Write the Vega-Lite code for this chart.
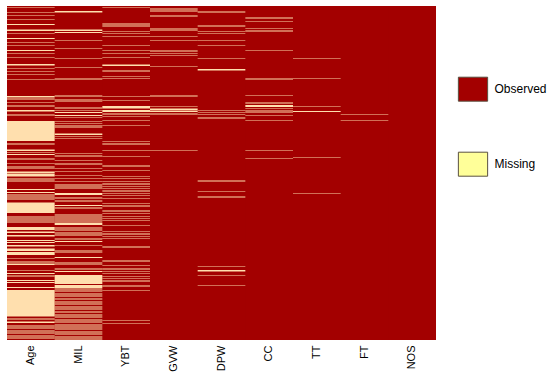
{
 "$schema": "https://vega.github.io/schema/vega-lite/v6.json",
 "width": 429, "height": 334,
 "autosize": {"type": "none"},
 "padding": {"left": 7, "top": 6, "right": 114, "bottom": 32},
 "background": "white",
 "view": {"fill": "#A30000", "stroke": null},
 "datasets": {
  "bg": [
   {"v":"Age","s":0,"e":668,"st":"Observed"},{"v":"MIL","s":0,"e":668,"st":"Observed"},{"v":"YBT","s":0,"e":668,"st":"Observed"},
   {"v":"GVW","s":0,"e":668,"st":"Observed"},{"v":"DPW","s":0,"e":668,"st":"Observed"},{"v":"CC","s":0,"e":668,"st":"Observed"},
   {"v":"TT","s":0,"e":668,"st":"Observed"},{"v":"FT","s":0,"e":668,"st":"Observed"},{"v":"NOS","s":0,"e":668,"st":"Observed"}
  ],
  "miss": [
   {"v":"Age","s":2,"e":3},{"v":"Age","s":12,"e":13},{"v":"Age","s":18,"e":19},{"v":"Age","s":26,"e":27},{"v":"Age","s":36,"e":38},
   {"v":"Age","s":47,"e":50},{"v":"Age","s":54,"e":55},{"v":"Age","s":64,"e":66},{"v":"Age","s":72,"e":73},{"v":"Age","s":78,"e":79},
   {"v":"Age","s":88,"e":90},{"v":"Age","s":94,"e":95},{"v":"Age","s":102,"e":103},{"v":"Age","s":116,"e":119},{"v":"Age","s":124,"e":125},
   {"v":"Age","s":130,"e":131},{"v":"Age","s":136,"e":137},{"v":"Age","s":146,"e":147},{"v":"Age","s":180,"e":183},{"v":"Age","s":185,"e":187},
   {"v":"Age","s":192,"e":193},{"v":"Age","s":198,"e":199},{"v":"Age","s":201,"e":202},{"v":"Age","s":208,"e":211},{"v":"Age","s":216,"e":217},
   {"v":"Age","s":219,"e":220},{"v":"Age","s":230,"e":270},{"v":"Age","s":275,"e":277},{"v":"Age","s":287,"e":290},{"v":"Age","s":293,"e":294},
   {"v":"Age","s":296,"e":298},{"v":"Age","s":304,"e":305},{"v":"Age","s":307,"e":308},{"v":"Age","s":314,"e":315},{"v":"Age","s":320,"e":321},
   {"v":"Age","s":323,"e":324},{"v":"Age","s":325,"e":326},{"v":"Age","s":331,"e":335},{"v":"Age","s":336,"e":341},
   {"v":"Age","s":345,"e":347},{"v":"Age","s":349,"e":351},{"v":"Age","s":366,"e":368},{"v":"Age","s":372,"e":374},{"v":"Age","s":377,"e":379},
   {"v":"Age","s":381,"e":383},{"v":"Age","s":385,"e":387},{"v":"Age","s":393,"e":414},{"v":"Age","s":421,"e":423},{"v":"Age","s":425,"e":427},
   {"v":"Age","s":429,"e":431},{"v":"Age","s":433,"e":434},{"v":"Age","s":442,"e":448},{"v":"Age","s":451,"e":454},{"v":"Age","s":458,"e":461},
   {"v":"Age","s":468,"e":470},{"v":"Age","s":472,"e":474},{"v":"Age","s":478,"e":481},{"v":"Age","s":485,"e":490},{"v":"Age","s":492,"e":498},
   {"v":"Age","s":504,"e":505},{"v":"Age","s":511,"e":513},{"v":"Age","s":515,"e":518},{"v":"Age","s":528,"e":529},{"v":"Age","s":534,"e":536},
   {"v":"Age","s":539,"e":541},{"v":"Age","s":548,"e":550},{"v":"Age","s":552,"e":554},{"v":"Age","s":562,"e":564},{"v":"Age","s":568,"e":621},
   {"v":"Age","s":625,"e":627},{"v":"Age","s":631,"e":634},{"v":"Age","s":639,"e":641},{"v":"Age","s":643,"e":645},{"v":"Age","s":649,"e":651},
   {"v":"Age","s":653,"e":655},{"v":"Age","s":659,"e":661},{"v":"Age","s":663,"e":665},
   {"v":"MIL","s":10,"e":13},{"v":"MIL","s":47,"e":50},{"v":"MIL","s":52,"e":54},{"v":"MIL","s":68,"e":69},{"v":"MIL","s":84,"e":85},
   {"v":"MIL","s":104,"e":105},{"v":"MIL","s":122,"e":123},{"v":"MIL","s":144,"e":145},{"v":"MIL","s":147,"e":148},{"v":"MIL","s":178,"e":179},
   {"v":"MIL","s":181,"e":182},{"v":"MIL","s":186,"e":187},{"v":"MIL","s":189,"e":190},{"v":"MIL","s":191,"e":192},{"v":"MIL","s":202,"e":203},
   {"v":"MIL","s":205,"e":206},{"v":"MIL","s":209,"e":210},{"v":"MIL","s":212,"e":214},{"v":"MIL","s":218,"e":220},{"v":"MIL","s":223,"e":224},
   {"v":"MIL","s":231,"e":232},{"v":"MIL","s":234,"e":235},{"v":"MIL","s":238,"e":239},{"v":"MIL","s":241,"e":242},{"v":"MIL","s":243,"e":244},
   {"v":"MIL","s":255,"e":258},{"v":"MIL","s":261,"e":262},{"v":"MIL","s":264,"e":265},{"v":"MIL","s":295,"e":296},{"v":"MIL","s":298,"e":299},
   {"v":"MIL","s":300,"e":301},{"v":"MIL","s":308,"e":309},{"v":"MIL","s":315,"e":316},{"v":"MIL","s":317,"e":318},{"v":"MIL","s":325,"e":326},
   {"v":"MIL","s":331,"e":332},{"v":"MIL","s":338,"e":339},{"v":"MIL","s":345,"e":346},{"v":"MIL","s":351,"e":352},{"v":"MIL","s":357,"e":359},
   {"v":"MIL","s":361,"e":363},{"v":"MIL","s":364,"e":365},{"v":"MIL","s":374,"e":378},{"v":"MIL","s":383,"e":385},{"v":"MIL","s":388,"e":389},
   {"v":"MIL","s":390,"e":391},{"v":"MIL","s":398,"e":400},{"v":"MIL","s":403,"e":405},{"v":"MIL","s":417,"e":419},{"v":"MIL","s":421,"e":423},
   {"v":"MIL","s":425,"e":427},{"v":"MIL","s":429,"e":431},{"v":"MIL","s":433,"e":438},{"v":"MIL","s":443,"e":445},{"v":"MIL","s":447,"e":449},
   {"v":"MIL","s":453,"e":455},{"v":"MIL","s":457,"e":459},{"v":"MIL","s":464,"e":465},{"v":"MIL","s":467,"e":468},{"v":"MIL","s":470,"e":472},
   {"v":"MIL","s":478,"e":479},{"v":"MIL","s":488,"e":489},{"v":"MIL","s":491,"e":492},{"v":"MIL","s":493,"e":494},{"v":"MIL","s":502,"e":504},
   {"v":"MIL","s":512,"e":513},{"v":"MIL","s":515,"e":516},{"v":"MIL","s":517,"e":518},{"v":"MIL","s":524,"e":525},{"v":"MIL","s":527,"e":528},
   {"v":"MIL","s":530,"e":532},{"v":"MIL","s":538,"e":556},{"v":"MIL","s":558,"e":564},{"v":"MIL","s":565,"e":567},{"v":"MIL","s":569,"e":571},
   {"v":"MIL","s":575,"e":577},{"v":"MIL","s":579,"e":581},{"v":"MIL","s":585,"e":587},{"v":"MIL","s":591,"e":593},{"v":"MIL","s":595,"e":597},
   {"v":"MIL","s":601,"e":603},{"v":"MIL","s":605,"e":607},{"v":"MIL","s":611,"e":613},{"v":"MIL","s":617,"e":619},{"v":"MIL","s":621,"e":623},
   {"v":"MIL","s":627,"e":629},{"v":"MIL","s":631,"e":633},{"v":"MIL","s":637,"e":639},{"v":"MIL","s":641,"e":643},{"v":"MIL","s":645,"e":647},
   {"v":"MIL","s":651,"e":653},{"v":"MIL","s":655,"e":657},{"v":"MIL","s":661,"e":663},{"v":"MIL","s":665,"e":667},
   {"v":"YBT","s":2,"e":3},{"v":"YBT","s":35,"e":37},{"v":"YBT","s":39,"e":41},{"v":"YBT","s":51,"e":52},{"v":"YBT","s":54,"e":55},
   {"v":"YBT","s":61,"e":62},{"v":"YBT","s":78,"e":79},{"v":"YBT","s":88,"e":89},{"v":"YBT","s":95,"e":96},{"v":"YBT","s":103,"e":104},
   {"v":"YBT","s":117,"e":120},{"v":"YBT","s":128,"e":129},{"v":"YBT","s":130,"e":131},{"v":"YBT","s":141,"e":142},{"v":"YBT","s":144,"e":145},
   {"v":"YBT","s":181,"e":182},{"v":"YBT","s":188,"e":189},{"v":"YBT","s":200,"e":205},{"v":"YBT","s":208,"e":212},{"v":"YBT","s":214,"e":215},
   {"v":"YBT","s":217,"e":218},{"v":"YBT","s":221,"e":222},{"v":"YBT","s":228,"e":229},{"v":"YBT","s":238,"e":239},{"v":"YBT","s":271,"e":272},
   {"v":"YBT","s":274,"e":275},{"v":"YBT","s":277,"e":278},{"v":"YBT","s":288,"e":289},{"v":"YBT","s":301,"e":302},{"v":"YBT","s":318,"e":319},
   {"v":"YBT","s":320,"e":321},{"v":"YBT","s":328,"e":329},{"v":"YBT","s":341,"e":342},{"v":"YBT","s":344,"e":345},{"v":"YBT","s":351,"e":352},
   {"v":"YBT","s":354,"e":355},{"v":"YBT","s":357,"e":358},{"v":"YBT","s":361,"e":362},{"v":"YBT","s":364,"e":365},{"v":"YBT","s":368,"e":369},
   {"v":"YBT","s":371,"e":372},{"v":"YBT","s":374,"e":375},{"v":"YBT","s":378,"e":379},{"v":"YBT","s":385,"e":386},{"v":"YBT","s":395,"e":396},
   {"v":"YBT","s":398,"e":399},{"v":"YBT","s":400,"e":401},{"v":"YBT","s":408,"e":409},{"v":"YBT","s":411,"e":412},{"v":"YBT","s":414,"e":415},
   {"v":"YBT","s":421,"e":422},{"v":"YBT","s":424,"e":425},{"v":"YBT","s":428,"e":429},{"v":"YBT","s":438,"e":439},{"v":"YBT","s":451,"e":452},
   {"v":"YBT","s":454,"e":455},{"v":"YBT","s":457,"e":458},{"v":"YBT","s":461,"e":462},{"v":"YBT","s":464,"e":465},{"v":"YBT","s":481,"e":483},
   {"v":"YBT","s":508,"e":509},{"v":"YBT","s":510,"e":511},{"v":"YBT","s":518,"e":519},{"v":"YBT","s":525,"e":526},{"v":"YBT","s":527,"e":528},
   {"v":"YBT","s":531,"e":532},{"v":"YBT","s":534,"e":535},{"v":"YBT","s":541,"e":542},{"v":"YBT","s":544,"e":545},{"v":"YBT","s":548,"e":549},
   {"v":"YBT","s":550,"e":551},{"v":"YBT","s":558,"e":559},{"v":"YBT","s":560,"e":561},{"v":"YBT","s":568,"e":569},{"v":"YBT","s":628,"e":629},
   {"v":"YBT","s":635,"e":636},
   {"v":"GVW","s":5,"e":7},{"v":"GVW","s":9,"e":11},{"v":"GVW","s":18,"e":19},{"v":"GVW","s":20,"e":21},{"v":"GVW","s":45,"e":46},
   {"v":"GVW","s":47,"e":49},{"v":"GVW","s":61,"e":62},{"v":"GVW","s":68,"e":69},{"v":"GVW","s":88,"e":89},{"v":"GVW","s":90,"e":91},
   {"v":"GVW","s":95,"e":96},{"v":"GVW","s":99,"e":100},{"v":"GVW","s":121,"e":122},{"v":"GVW","s":178,"e":179},{"v":"GVW","s":180,"e":181},
   {"v":"GVW","s":201,"e":202},{"v":"GVW","s":205,"e":208},{"v":"GVW","s":209,"e":212},{"v":"GVW","s":214,"e":215},{"v":"GVW","s":217,"e":218},
   {"v":"GVW","s":288,"e":289},
   {"v":"DPW","s":11,"e":13},{"v":"DPW","s":38,"e":39},{"v":"DPW","s":40,"e":41},{"v":"DPW","s":51,"e":52},{"v":"DPW","s":54,"e":55},
   {"v":"DPW","s":68,"e":69},{"v":"DPW","s":78,"e":79},{"v":"DPW","s":105,"e":106},{"v":"DPW","s":126,"e":129},{"v":"DPW","s":208,"e":209},
   {"v":"DPW","s":212,"e":213},{"v":"DPW","s":216,"e":217},{"v":"DPW","s":222,"e":223},{"v":"DPW","s":225,"e":226},{"v":"DPW","s":348,"e":349},
   {"v":"DPW","s":350,"e":351},{"v":"DPW","s":371,"e":372},{"v":"DPW","s":381,"e":383},{"v":"DPW","s":521,"e":522},{"v":"DPW","s":528,"e":531},
   {"v":"DPW","s":538,"e":539},{"v":"DPW","s":558,"e":559},
   {"v":"CC","s":22,"e":23},{"v":"CC","s":24,"e":25},{"v":"CC","s":30,"e":31},{"v":"CC","s":45,"e":46},{"v":"CC","s":49,"e":51},
   {"v":"CC","s":88,"e":89},{"v":"CC","s":145,"e":146},{"v":"CC","s":147,"e":148},{"v":"CC","s":178,"e":179},{"v":"CC","s":192,"e":193},
   {"v":"CC","s":194,"e":195},{"v":"CC","s":198,"e":202},{"v":"CC","s":205,"e":206},{"v":"CC","s":208,"e":209},{"v":"CC","s":211,"e":212},
   {"v":"CC","s":213,"e":214},{"v":"CC","s":218,"e":219},{"v":"CC","s":228,"e":229},{"v":"CC","s":288,"e":289},{"v":"CC","s":305,"e":306},
   {"v":"TT","s":104,"e":105},{"v":"TT","s":144,"e":145},{"v":"TT","s":200,"e":201},{"v":"TT","s":210,"e":212},{"v":"TT","s":302,"e":303},
   {"v":"TT","s":374,"e":375},
   {"v":"FT","s":216,"e":217},{"v":"FT","s":229,"e":230}
  ]
 },
 "encoding": {
  "x": {"field": "v", "type": "nominal",
        "scale": {"domain": ["Age","MIL","YBT","GVW","DPW","CC","TT","FT","NOS"], "paddingInner": 0, "paddingOuter": 0},
        "axis": {"title": null, "labelAngle": -90, "ticks": false, "domain": false, "grid": false, "labelPadding": 5,
                 "labelFontSize": 11, "labelFont": "Liberation Sans", "labelColor": "#000000"}},
  "y": {"field": "s", "type": "quantitative", "scale": {"domain": [0, 668], "reverse": true, "nice": false, "zero": false}, "axis": null},
  "y2": {"field": "e"}
 },
 "layer": [
  {"data": {"name": "bg"}, "mark": {"type": "rect"},
   "encoding": {"color": {"field": "st", "type": "nominal",
     "scale": {"domain": ["Observed","Missing"], "range": ["#A30000","#FFFF99"]},
     "legend": {"title": null, "orient": "none", "legendX": 453.5, "legendY": 70.7, "padding": 0,
                "symbolType": "M-1.22,-1H1.22V1H-1.22Z", "symbolSize": 576, "symbolStrokeWidth": 1,
                "symbolStrokeColor": "#5a5040", "symbolOpacity": 1,
                "labelFontSize": 12, "labelFont": "Liberation Sans", "labelColor": "#000000",
                "rowPadding": 46, "labelOffset": 9}}}},
  {"data": {"name": "miss"}, "mark": {"type": "rect"},
   "encoding": {"fill": {"datum": "Missing", "type": "nominal",
     "scale": {"domain": ["Missing"], "range": ["#FFDFAE"]}, "legend": null}}}
 ]
}
